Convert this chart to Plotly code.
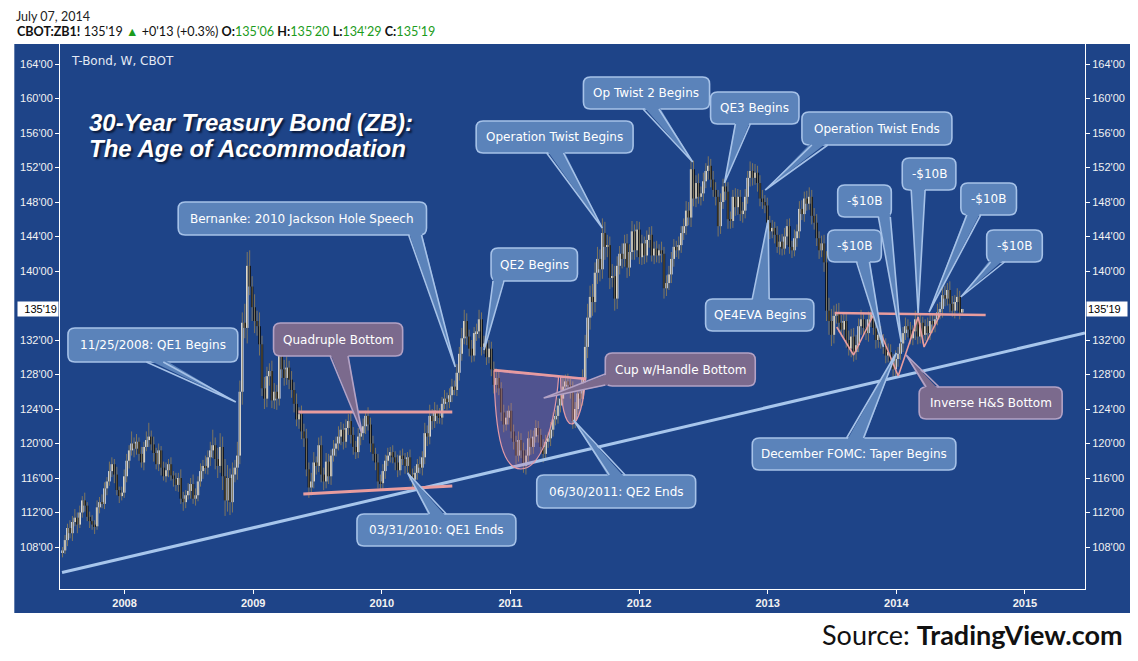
import pandas as pd
import plotly.graph_objects as go

# ---------------- data (weekly ZB1! candles) ----------------
first_open = 107.3

close_2007 = [107.6, 108.8, 110.2, 109.6, 110.9, 111.4, 110.6, 112.0, 113.4, 112.8,
              111.5, 111.0, 110.6, 110.4, 112.6, 113.2, 113.0, 114.8, 115.6, 116.8,
              117.6, 116.4, 114.6, 113.9, 114.3, 116.2]
close_2008 = [118.0, 119.2, 120.0, 119.4, 120.2, 118.8, 117.8, 119.6,
              120.4, 120.8, 119.9, 118.9, 117.6, 119.2, 117.2, 116.2, 116.9,
              117.6, 116.3, 115.9, 115.2, 116.0, 113.6, 113.2, 114.0, 114.5,
              115.3, 113.6, 114.0, 115.6, 116.8, 117.4, 117.2, 118.4,
              119.2, 119.8, 118.2, 117.4, 119.6, 116.2, 113.4, 116.0, 113.2,
              116.4, 117.2, 118.6, 126.0, 134.0, 133.4, 140.6, 138.2, 135.8]
close_2009 = [134.2, 133.6, 131.5, 126.4, 125.2, 127.8, 128.4, 125.0,
              126.0, 125.2, 130.2, 128.6, 127.6, 128.8, 127.4, 126.2, 124.6,
              122.8, 123.4, 121.4, 120.6, 117.0, 114.9, 115.6, 117.8, 117.4,
              119.8, 116.4, 115.6, 117.9, 116.2, 118.6, 119.4, 120.0, 120.8,
              121.6, 120.2, 121.8, 122.6, 121.0, 119.6, 119.0, 120.8,
              121.2, 122.0, 123.2, 122.2, 120.0, 118.8, 117.8, 115.6, 115.4]
close_2010 = [116.8, 118.0, 118.6, 119.0, 118.4, 117.8, 116.9, 118.6,
              118.2, 117.4, 118.4, 116.4, 115.8, 116.6, 117.6, 117.2, 118.4,
              121.2, 120.8, 123.2, 122.6, 123.8, 123.2, 123.0, 124.6, 125.2,
              124.8, 125.6, 126.6, 126.2, 128.2, 130.4, 132.2, 134.2, 132.4,
              131.0, 130.2, 132.8, 133.0, 134.4, 131.2, 131.6, 130.0,
              131.0, 128.6, 126.8, 127.6, 126.4, 123.6, 122.2, 123.0, 123.8]
close_2011 = [121.4, 120.2, 118.6, 120.4, 119.2, 117.4, 118.6, 120.6, 119.6,
              120.8, 121.8, 121.0, 119.6, 118.8, 120.2, 120.6, 121.6,
              122.8, 123.2, 124.4, 125.2, 126.6, 127.2, 126.8, 126.2, 122.6,
              124.0, 125.8, 125.2, 127.6, 131.2, 134.6, 137.0, 136.4, 139.8,
              141.4, 140.2, 144.4, 142.8, 143.0, 139.2, 139.4, 136.8, 140.6,
              142.0, 141.4, 143.2, 140.4, 142.2, 144.6, 142.4, 144.8]
close_2012 = [141.6, 143.2, 141.8, 143.6, 144.2, 141.8, 142.6, 141.8, 142.4,
              142.0, 138.0, 138.6, 139.6, 141.4, 142.8, 142.4, 143.0, 144.4,
              145.2, 147.0, 146.2, 151.8, 148.4, 150.2, 148.6, 149.0,
              150.4, 151.6, 152.2, 150.6, 149.4, 148.6, 145.2, 148.0, 149.8,
              149.2, 146.0, 145.8, 148.6, 147.4, 148.6, 146.6, 147.0, 148.6,
              150.8, 151.6, 150.8, 151.4, 150.2, 148.4, 148.0, 147.6, 145.6]
close_2013 = [144.6, 145.0, 144.2, 142.8, 143.4, 142.6, 144.0, 145.2,
              142.8, 142.4, 143.8, 144.6, 147.2, 146.6, 148.4, 147.8, 148.6,
              146.4, 145.6, 143.8, 142.4, 143.2, 141.0, 135.4, 134.2,
              132.6, 134.8, 135.2, 134.0, 133.2, 134.2, 132.0, 131.0, 132.4,
              130.6, 131.4, 133.6, 134.4, 133.4, 132.8, 134.4, 135.0, 133.4,
              132.0, 132.6, 131.8, 131.4, 130.2, 130.6, 129.6, 128.6, 129.8]
close_2014 = [130.4, 131.6, 132.8, 133.6, 133.2, 132.2, 133.0, 134.4,
              132.4, 134.0, 132.6, 133.6, 132.8, 134.2, 133.8, 134.4, 135.2,
              135.6, 137.2, 136.8, 137.8, 136.2, 135.4, 136.4, 137.0, 135.19,
              135.59]

upper_wick_2007 = [0.4, 0.6, 0.5, 0.9, 0.7, 1.0, 0.6, 0.8, 0.5, 0.9, 0.4, 0.6, 0.7,
                   0.5, 0.8, 0.6, 0.9, 0.7, 0.5, 1.1, 0.8, 0.6, 0.9, 0.4, 0.7, 0.8]
lower_wick_2007 = [0.5, 0.4, 0.7, 0.6, 0.9, 0.5, 1.0, 0.4, 0.6, 0.7, 0.5, 0.8, 0.6,
                   0.9, 0.4, 0.7, 0.5, 0.6, 0.8, 0.5, 0.7, 1.0, 0.6, 0.8, 0.5, 0.6]
upper_wick_2008 = [0.8, 0.6, 1.4, 0.7, 0.9, 0.5, 0.8, 0.6, 1.0, 1.6, 0.7, 0.9, 0.6,
                   0.8, 0.5, 0.7, 0.9, 0.6, 0.8, 0.5, 0.7, 0.6, 1.0, 0.8, 0.6, 0.9,
                   0.7, 1.1, 0.8, 0.6, 0.9, 0.7, 1.2, 0.8, 1.0, 1.8, 0.9, 1.3, 1.6,
                   1.2, 2.0, 1.5, 1.1, 1.4, 0.9, 1.6, 1.3, 1.2, 2.2, 1.6, 1.8, 1.2]
lower_wick_2008 = [0.7, 0.9, 0.6, 1.0, 0.7, 0.8, 0.6, 0.9, 0.5, 0.8, 0.7, 1.0, 0.6,
                   0.8, 0.9, 0.5, 0.7, 0.8, 0.6, 0.9, 0.7, 0.8, 0.6, 1.0, 0.7, 0.5,
                   0.9, 0.6, 0.8, 0.7, 0.6, 0.9, 0.7, 0.8, 1.0, 0.9, 1.2, 1.4, 0.8,
                   1.6, 1.8, 1.3, 1.5, 1.2, 0.9, 1.4, 1.0, 1.5, 1.2, 1.8, 1.0, 1.6]
upper_wick_2009 = [1.5, 1.2, 1.6, 1.0, 1.3, 1.1, 0.9, 1.2, 1.0, 0.8, 1.4, 0.9, 1.1,
                   1.3, 0.8, 1.0, 0.9, 1.2, 0.8, 1.0, 0.9, 1.1, 0.8, 1.0, 1.2, 0.7,
                   0.9, 1.1, 0.8, 1.0, 0.9, 0.7, 1.0, 0.8, 1.2, 0.9, 0.7, 1.0, 0.8,
                   1.1, 0.9, 0.7, 1.0, 0.8, 0.9, 0.6, 1.0, 0.8, 0.9, 0.7, 1.0, 0.8]
lower_wick_2009 = [1.4, 1.1, 1.3, 0.9, 1.2, 1.0, 1.1, 0.9, 1.0, 1.3, 0.8, 1.0, 0.9,
                   0.8, 1.1, 0.9, 1.0, 0.8, 1.1, 0.9, 1.0, 0.8, 1.2, 0.9, 0.8, 1.0,
                   0.7, 0.9, 1.0, 0.8, 0.9, 1.0, 0.7, 0.9, 0.8, 1.0, 0.9, 0.7, 0.8,
                   1.0, 0.9, 0.8, 0.7, 1.0, 0.8, 0.9, 0.7, 1.0, 0.8, 0.9, 0.8, 0.7]
upper_wick_2010 = [0.8, 0.7, 0.9, 0.6, 0.8, 0.7, 0.9, 0.6, 0.8, 0.7, 0.6, 0.9, 0.7,
                   0.8, 0.6, 0.9, 0.7, 1.2, 0.9, 1.3, 0.8, 1.0, 0.7, 0.9, 0.8, 1.0,
                   0.7, 0.8, 0.9, 0.7, 1.0, 0.8, 1.2, 1.3, 0.9, 0.8, 1.0, 0.7, 0.9,
                   1.1, 0.8, 0.9, 0.7, 1.0, 0.8, 0.9, 1.1, 0.8, 0.7, 0.9, 0.8, 0.6]
lower_wick_2010 = [0.7, 0.9, 0.6, 0.8, 0.7, 0.9, 0.8, 0.6, 0.7, 0.9, 0.8, 0.7, 0.9,
                   0.6, 0.8, 0.7, 0.9, 0.8, 1.1, 0.9, 1.0, 0.8, 0.9, 0.7, 0.8, 0.6,
                   0.9, 0.7, 0.8, 0.6, 0.7, 0.9, 0.8, 0.7, 1.0, 0.9, 0.8, 0.7, 0.9,
                   0.8, 1.0, 0.8, 0.9, 0.7, 0.8, 1.0, 0.9, 0.8, 1.0, 0.9, 0.7, 0.8]
upper_wick_2011 = [0.9, 0.8, 0.7, 1.0, 0.8, 0.9, 0.7, 0.8, 1.0, 0.7, 0.9, 0.8, 0.7,
                   0.9, 0.8, 0.7, 0.9, 0.8, 0.7, 0.9, 0.8, 1.0, 0.8, 0.9, 0.7, 1.0,
                   0.8, 0.9, 0.7, 1.0, 1.4, 1.6, 1.3, 1.5, 1.2, 1.4, 1.1, 1.7, 1.3,
                   1.2, 1.0, 1.4, 1.2, 1.1, 0.9, 1.2, 1.0, 1.1, 0.9, 1.2, 0.8, 1.0]
lower_wick_2011 = [0.8, 0.9, 1.0, 0.7, 0.9, 0.8, 1.0, 0.7, 0.9, 0.8, 0.7, 0.9, 0.8,
                   1.0, 0.8, 0.7, 0.9, 0.8, 0.7, 0.9, 0.8, 0.7, 0.9, 0.8, 1.0, 0.9,
                   0.8, 0.7, 0.9, 0.8, 1.0, 1.3, 1.4, 1.6, 1.2, 1.3, 1.4, 1.1, 1.5,
                   1.2, 1.3, 1.1, 1.4, 1.2, 1.0, 1.1, 0.9, 1.2, 1.0, 0.9, 1.1, 0.8]
upper_wick_2012 = [0.9, 1.0, 0.8, 1.1, 0.9, 1.0, 0.8, 0.9, 0.7, 1.0, 0.8, 0.9, 1.0,
                   0.8, 0.9, 0.7, 1.0, 0.8, 0.9, 1.1, 1.0, 1.1, 1.0, 0.9, 1.1, 0.8,
                   1.0, 0.9, 1.1, 0.8, 1.0, 0.9, 0.8, 1.0, 0.9, 0.8, 1.1, 0.9, 0.8,
                   1.0, 0.9, 0.8, 1.0, 0.9, 0.8, 1.1, 0.9, 1.0, 0.8, 0.9, 1.0, 0.8, 0.9]
lower_wick_2012 = [0.8, 0.9, 1.0, 0.8, 0.9, 0.7, 1.0, 0.8, 0.9, 1.0, 1.2, 0.9, 0.8,
                   1.0, 0.9, 0.8, 1.0, 0.9, 0.8, 1.0, 0.9, 1.1, 0.9, 1.0, 0.8, 1.0,
                   0.9, 0.8, 1.0, 0.9, 0.8, 1.0, 1.2, 0.9, 0.8, 1.0, 1.1, 0.9, 0.8,
                   1.0, 0.9, 0.8, 1.0, 0.9, 0.8, 1.0, 0.9, 0.8, 1.0, 0.9, 0.8, 0.9, 1.0]
upper_wick_2013 = [0.8, 0.9, 0.7, 1.0, 0.8, 0.9, 1.0, 0.8, 0.9, 0.7, 1.0, 0.8, 0.9,
                   1.0, 0.8, 0.9, 1.1, 0.8, 0.9, 1.0, 0.8, 0.9, 1.0, 1.3, 1.5, 1.4,
                   1.2, 1.0, 1.1, 0.9, 1.0, 0.8, 1.1, 0.9, 1.0, 1.2, 0.9, 1.1, 0.8,
                   1.0, 0.9, 0.8, 1.0, 0.9, 0.8, 1.0, 0.9, 0.8, 1.0, 0.9, 0.8, 1.0]
lower_wick_2013 = [0.9, 0.8, 1.0, 0.7, 0.9, 0.8, 0.7, 1.0, 0.8, 0.9, 0.7, 1.0, 0.8,
                   0.7, 0.9, 0.8, 0.7, 1.0, 0.8, 0.9, 1.0, 0.8, 1.1, 1.2, 1.6, 1.3,
                   1.0, 0.9, 1.1, 0.8, 1.0, 0.9, 0.8, 1.0, 1.1, 0.9, 0.8, 1.0, 0.9,
                   0.8, 1.0, 0.9, 0.8, 1.0, 0.9, 0.8, 1.0, 0.9, 0.8, 1.0, 0.9, 0.8]
upper_wick_2014 = [0.8, 0.9, 0.7, 1.0, 0.8, 0.9, 0.7, 1.0, 0.8, 0.9, 0.7, 0.8, 1.0,
                   0.9, 0.8, 0.7, 1.0, 0.8, 0.9, 1.1, 0.8, 1.0, 0.9, 0.8, 1.0, 0.7, 0.03]
lower_wick_2014 = [0.9, 0.7, 1.0, 0.8, 0.9, 0.7, 0.8, 1.0, 0.9, 0.8, 1.0, 0.7, 0.9,
                   0.8, 1.0, 0.9, 0.7, 0.8, 1.0, 0.9, 0.8, 1.0, 0.7, 0.9, 1.0, 0.8, 0.28]

# chart drawings (decimal year, price)
trend_years = [2007.514, 2015.467]
trend_prices = [105.04, 132.81]
quad_top_years = [2009.351, 2010.548]
quad_top_prices = [123.65, 123.65]
quad_bot_years = [2009.390, 2010.548]
quad_bot_prices = [114.14, 115.07]
cup_rim_years = [2010.873, 2011.591]
cup_rim_prices = [128.52, 127.48]
neck_years = [2013.521, 2014.695]
neck_prices = [135.13, 134.90]
hs_years = [2013.537, 2013.668, 2013.822, 2014.015, 2014.170, 2014.216, 2014.347]
hs_prices = [133.51, 130.26, 134.90, 127.83, 134.67, 131.19, 135.13]

year_ticks = [2008, 2009, 2010, 2011, 2012, 2013, 2014, 2015]
price_ticks = [108, 112, 116, 120, 124, 128, 132, 140, 144, 148, 152, 156, 160, 164]
last_price = 135.594
last_label = "135'19"

# ---------------- build candles ----------------
closes = (close_2007 + close_2008 + close_2009 + close_2010 + close_2011 +
          close_2012 + close_2013 + close_2014)
upper = (upper_wick_2007 + upper_wick_2008 + upper_wick_2009 + upper_wick_2010 +
         upper_wick_2011 + upper_wick_2012 + upper_wick_2013 + upper_wick_2014)
lower = (lower_wick_2007 + lower_wick_2008 + lower_wick_2009 + lower_wick_2010 +
         lower_wick_2011 + lower_wick_2012 + lower_wick_2013 + lower_wick_2014)
n = min(len(closes), len(upper), len(lower))
closes, upper, lower = closes[:n], upper[:n], lower[:n]
dates = pd.date_range(end="2014-07-07", periods=n, freq="W-MON")
xs = [d.year + (d.dayofyear - 1) / (366 if d.is_leap_year else 365) for d in dates]
opens = [first_open] + closes[:-1]
highs = [max(o, c) + u for o, c, u in zip(opens, closes, upper)]
lows = [min(o, c) - l for o, c, l in zip(opens, closes, lower)]

BLUE = "#1e4488"
WICK = "#7e765f"

# ---------------- pixel (reference screenshot) <-> data helpers ----------------
OFF = 8                     # page body margin
W, H = 1138 - OFF, 661 - OFF
L, R, T, B = 53, 1085, 44, 589   # plot area in screenshot pixels


def X(px):
    return 2008 + (px - 118) / 129.5


def Y(py):
    return 164 - (py - 64) / 8.625


def PX(px):
    return (px - L) / (R - L)


def PY(py):
    return (B - py) / (B - T)


def P(*segs):
    out = []
    for s in segs:
        if s == "Z":
            out.append("Z")
            continue
        cmd, pts = s[0], s[1:]
        out.append(cmd + " " + " ".join(f"{X(a):.5f},{Y(b):.4f}" for a, b in pts))
    return " ".join(out)


def rrect(x0, y0, x1, y1, r=7):
    return P(("M", (x0 + r, y0)), ("L", (x1 - r, y0)), ("Q", (x1, y0), (x1, y0 + r)),
             ("L", (x1, y1 - r)), ("Q", (x1, y1), (x1 - r, y1)), ("L", (x0 + r, y1)),
             ("Q", (x0, y1), (x0, y1 - r)), ("L", (x0, y0 + r)), ("Q", (x0, y0), (x0 + r, y0)), "Z")


fig = go.Figure()

# wicks
wx, wy = [], []
for x, hi, lo in zip(xs, highs, lows):
    wx += [x, x, None]
    wy += [lo, hi, None]
fig.add_trace(go.Scatter(x=wx, y=wy, mode="lines", line=dict(color=WICK, width=1),
                         hoverinfo="skip"))

# bodies
for up, col in [(True, "#ffffff"), (False, "#000000")]:
    bx, bb, bh = [], [], []
    for x, o, c in zip(xs, opens, closes):
        if (c >= o) == up:
            bx.append(x)
            bb.append(min(o, c))
            bh.append(max(abs(c - o), 0.07))
    fig.add_trace(go.Bar(x=bx, y=bh, base=bb, width=0.0185, marker=dict(color=col, line=dict(width=0)),
                         hoverinfo="skip"))

# drawings
fig.add_trace(go.Scatter(x=trend_years, y=trend_prices, mode="lines",
                         line=dict(color="#a7c6ec", width=3), hoverinfo="skip"))
PINK = "#e89c9e"
for xx, yy, w in [(quad_top_years, quad_top_prices, 3), (quad_bot_years, quad_bot_prices, 3),
                  (cup_rim_years, cup_rim_prices, 2.5), (neck_years, neck_prices, 2.5),
                  (hs_years, hs_prices, 1.6)]:
    fig.add_trace(go.Scatter(x=xx, y=yy, mode="lines", line=dict(color=PINK, width=w),
                             hoverinfo="skip"))

# dummy trace for right axis
fig.add_trace(go.Scatter(x=[X(60)], y=[Y(300)], yaxis="y2", mode="markers",
                         marker=dict(opacity=0), hoverinfo="skip"))

shapes = []
# outer dark blue panel
shapes.append(dict(type="rect", xref="paper", yref="paper", x0=PX(7), x1=PX(1131),
                   y0=PY(613), y1=PY(44), fillcolor=BLUE, line=dict(width=0), layer="below"))

# cup & handle fill
shapes.append(dict(type="path", xref="x", yref="y", layer="above",
                   path=P(("M", (490, 371)), ("C", (491, 440), (500, 469), (517, 469)),
                          ("C", (536, 469), (551, 430), (555, 377)), "Z"),
                   fillcolor="rgba(200,120,160,0.30)", line=dict(color="#e49aa6", width=1.2)))
shapes.append(dict(type="path", xref="x", yref="y", layer="above",
                   path=P(("M", (557, 377)), ("C", (557, 405), (562, 424), (568, 424)),
                          ("C", (575, 424), (581, 400), (582, 378)), "Z"),
                   fillcolor="rgba(240,160,180,0.35)", line=dict(color="#e49aa6", width=1.2)))

STY = {"b": ("#5b83ba", "#a6c2e8"), "m": ("#7b6a8d", "#b3a2c5")}
callouts = [
    ("11/25/2008: QE1 Begins", (61, 328, 232, 362), ((140, 362), (157, 362)), (230, 402), "b"),
    ("Quadruple Bottom", (268, 323, 398, 356), ((325, 356), (343, 356)), (357, 433), "m"),
    ("Bernanke: 2010 Jackson Hole Speech", (172, 202, 422, 235), ((404, 235), (417, 235)), (451, 367), "b"),
    ("QE2 Begins", (487, 248, 574, 281), ((489, 281), (500, 281)), (480, 350), "b"),
    ("Operation Twist Begins", (472, 121, 630, 153), ((543, 153), (560, 153)), (599, 228), "b"),
    ("Op Twist 2 Begins", (580, 77, 707, 109), ((640, 109), (656, 109)), (690, 162), "b"),
    ("QE3 Begins", (708, 92, 797, 124), ((733, 124), (748, 124)), (722, 183), "b"),
    ("Operation Twist Ends", (800, 112, 951, 145), ((810, 145), (826, 145)), (763, 190), "b"),
    ("QE4EVA Begins", (703, 299, 812, 331), ((750, 299), (767, 299)), (766, 220), "b"),
    ("-$10B", (826, 230, 880, 262), ((855, 262), (868, 262)), (882, 347), "b"),
    ("-$10B", (836, 185, 890, 217), ((877, 217), (889, 217)), (900, 342), "b"),
    ("-$10B", (901, 158, 955, 190), ((910, 190), (924, 190)), (917, 313), "b"),
    ("-$10B", (960, 183, 1016, 215), ((966, 215), (980, 215)), (928, 312), "b"),
    ("-$10B", (986, 230, 1042, 262), ((990, 262), (1004, 262)), (960, 297), "b"),
    ("December FOMC: Taper Begins", (750, 438, 955, 470), ((845, 438), (862, 438)), (895, 353), "b"),
    ("Inverse H&amp;S Bottom", (918, 387, 1062, 419), ((925, 387), (938, 387)), (905, 355), "m"),
    ("Cup w/Handle Bottom", (602, 353, 753, 386), ((602, 374), (602, 385)), (540, 398), "m"),
    ("06/30/2011: QE2 Ends", (533, 475, 693, 508), ((606, 475), (622, 475)), (570, 420), "b"),
    ("03/31/2010: QE1 Ends", (352, 514, 512, 546), ((425, 514), (442, 514)), (403, 473), "b"),
]

annotations = []
for text, (x0, y0, x1, y1), (b1, b2), tip, sty in callouts:
    fill, edge = STY[sty]
    shapes.append(dict(type="path", xref="x", yref="y", layer="above", path=rrect(x0, y0, x1, y1),
                       fillcolor=fill, line=dict(color=edge, width=1.6)))
    if abs(b1[1] - y1) < 1:
        d = (0, -3)
    elif abs(b1[1] - y0) < 1:
        d = (0, 3)
    elif abs(b1[0] - x0) < 1:
        d = (3, 0)
    else:
        d = (-3, 0)
    i1 = (b1[0] + d[0], b1[1] + d[1])
    i2 = (b2[0] + d[0], b2[1] + d[1])
    shapes.append(dict(type="path", xref="x", yref="y", layer="above",
                       path=P(("M", i1), ("L", tip), ("L", i2), "Z"),
                       fillcolor=fill, line=dict(width=0)))
    shapes.append(dict(type="path", xref="x", yref="y", layer="above",
                       path=P(("M", b1), ("L", tip), ("L", b2)),
                       fillcolor="rgba(0,0,0,0)", line=dict(color=edge, width=1.6)))
    annotations.append(dict(x=X((x0 + x1) / 2), y=Y((y0 + y1) / 2), xref="x", yref="y",
                            text=text, showarrow=False, xanchor="center", yanchor="middle",
                            font=dict(family="DejaVu Sans", size=12, color="white")))

# title texts
TF = dict(family="Liberation Sans", size=24, color="white", shadow="2px 2px 2px #0a1a3a")
annotations.append(dict(x=PX(80), y=PY(122), xref="paper", yref="paper", xanchor="left",
                        yanchor="middle", showarrow=False, font=TF,
                        text="<b><i>30-Year Treasury Bond (ZB):</i></b>"))
annotations.append(dict(x=PX(80), y=PY(149), xref="paper", yref="paper", xanchor="left",
                        yanchor="middle", showarrow=False, font=TF,
                        text="<b><i>The Age of Accommodation</i></b>"))
annotations.append(dict(x=PX(62), y=PY(61), xref="paper", yref="paper", xanchor="left",
                        yanchor="middle", showarrow=False, text="T-Bond, W, CBOT",
                        font=dict(family="DejaVu Sans", size=12, color="#e4eaf4")))

# header
annotations.append(dict(x=PX(8), y=PY(OFF), xref="paper", yref="paper", xanchor="left",
                        yanchor="top", showarrow=False, text="July 07, 2014", borderpad=0,
                        font=dict(family="Lato", size=12.5, color="#222222")))
G = "#1c9c1c"
hdr = ("<b>CBOT:ZB1!</b> 135'19 <span style='color:%s'>▲</span> +0'13 (+0.3%%) "
       "<b>O:</b><span style='color:%s'>135'06</span> <b>H:</b><span style='color:%s'>135'20</span> "
       "<b>L:</b><span style='color:%s'>134'29</span> <b>C:</b><span style='color:%s'>135'19</span>") % (G, G, G, G, G)
annotations.append(dict(x=PX(8), y=PY(31), xref="paper", yref="paper", xanchor="left",
                        yanchor="middle", showarrow=False, text=hdr,
                        font=dict(family="Lato", size=12.6, color="#111111")))

# source
annotations.append(dict(x=PX(1125), y=PY(634), xref="paper", yref="paper", xanchor="right",
                        yanchor="middle", showarrow=False,
                        text="Source: <b>TradingView.com</b>",
                        font=dict(family="Lato", size=27, color="#111111")))

# last price labels
for xp, xa, al in [(0, "right", "right"), (1, "left", "left")]:
    annotations.append(dict(x=xp, y=last_price, xref="paper", yref="y", xanchor=xa,
                            yanchor="middle", showarrow=False, text=last_label,
                            bgcolor="white", width=38, align=al, borderpad=1,
                            xshift=(-1 if xp == 0 else 1),
                            font=dict(family="Liberation Sans", size=11, color="black")))

tick_font = dict(family="Liberation Sans", size=11, color="#f2f2f2")
yax = dict(range=[Y(B), Y(T)], tickvals=price_ticks, ticktext=[f"{v}'00" for v in price_ticks],
           ticks="outside", ticklen=4, tickcolor="white", showline=True, linecolor="white",
           linewidth=1, showgrid=False, zeroline=False, tickfont=tick_font, fixedrange=True)

fig.update_layout(
    width=W, height=H,
    margin=dict(l=L - OFF, r=W - (R - OFF), t=T - OFF, b=H - (B - OFF), pad=0),
    paper_bgcolor="white", plot_bgcolor=BLUE, showlegend=False, barmode="overlay",
    hovermode=False,
    xaxis=dict(range=[X(L), X(R)], tickvals=year_ticks,
               ticktext=[f"<b>{y}</b>" for y in year_ticks], ticks="outside", ticklen=4,
               tickcolor="white", showline=True, linecolor="white", linewidth=1,
               showgrid=False, zeroline=False, tickfont=tick_font),
    yaxis=dict(side="left", **yax),
    yaxis2=dict(side="right", overlaying="y", **yax),
    shapes=shapes, annotations=annotations,
)

fig.write_html("out.html")
